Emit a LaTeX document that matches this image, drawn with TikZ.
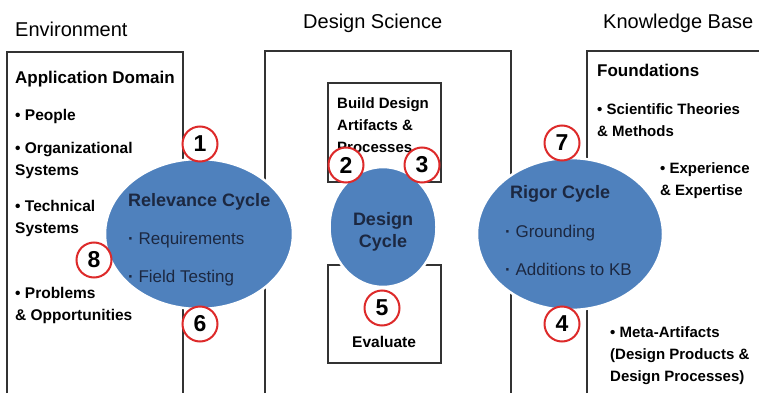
\documentclass[tikz,border=0pt]{standalone}
\usepackage{fontspec}
\setmainfont{Liberation Sans}
\usetikzlibrary{shapes.geometric}
\definecolor{cycblue}{HTML}{4F81BD}
\definecolor{cyctext}{HTML}{1C2841}
\definecolor{numred}{HTML}{DD2A2A}
\newcommand{\fsz}[1]{\fontsize{#1}{22}\selectfont}

\begin{document}
\begin{tikzpicture}[x=1pt, y=-1pt,
	boxline/.style={draw=black!80, line width=1.3pt},
	title/.style={anchor=base west, inner sep=0pt, font=\fsz{20}},
	item/.style={anchor=base west, inner sep=0pt, align=left, font=\bfseries\fsz{15.5}},
	cyc/.style={ellipse, fill=cycblue, draw=white, line width=2.5pt, inner sep=0pt},
	cyctxt/.style={anchor=base west, inner sep=0pt, text=cyctext, font=\fsz{17}},
	num/.style={circle, draw=numred, fill=white, line width=2pt, minimum size=35pt, inner sep=0pt, font=\bfseries\fsz{23}}]
	\useasboundingbox (0,0) rectangle (759,393);

	% the three areas, open at the bottom
	\draw[boxline] (7,393) -- (7,52) -- (183,52) -- (183,393);
	\draw[boxline] (265,393) -- (265,51) -- (511,51) -- (511,393);
	\draw[boxline] (587,393) -- (587,51) -- (759,51);
	\draw[boxline] (328,83) rectangle (441,182);
	\draw[boxline] (328,265) rectangle (441,363);

	\node[title] (env) at (15,37) {Environment};
	\node[title] (dsci) at (303,29) {Design Science};
	\node[title] (kbase) at (603,29) {Knowledge Base};

	% environment (base = last line)
	\node[item, font=\bfseries\fsz{17}] (appdom) at (15,84) {Application Domain};
	\node[item] (people) at (15,121) {• People};
	\node[item] (orgsys) at (15,175) {• Organizational\\Systems};
	\node[item] (techsys) at (15,233) {• Technical\\Systems};
	\node[item] (probs) at (15,320) {• Problems\\\& Opportunities};

	% design science
	\node[item, font=\bfseries\fsz{15}] (build) at (337,152) {Build Design\\Artifacts \&\\Processes};
	\node[item] (evalu) at (352,347) {Evaluate};

	% knowledge base
	\node[item, font=\bfseries\fsz{17}] (found) at (597,77) {Foundations};
	\node[item, font=\bfseries\fsz{15}] (sci) at (597,136) {• Scientific Theories\\\& Methods};
	\node[item, font=\bfseries\fsz{15}] (expert) at (660,195) {• Experience\\\& Expertise};
	\node[item, font=\bfseries\fsz{15}] (meta) at (610,381) {• Meta-Artifacts\\(Design Products \&\\Design Processes)};

	% cycles
	\node[cyc, minimum width=188pt, minimum height=150pt] (relev) at (199,234) {};
	\node[cyc, minimum width=107pt, minimum height=120pt] (design) at (383,227) {};
	\node[cyc, minimum width=186pt, minimum height=152pt] (rigor) at (570,234) {};

	\node[cyctxt, font=\bfseries\fsz{18}] (relevhd) at (128,206) {Relevance Cycle};
	\node[cyctxt] (req) at (128,244) {{\bfseries·} Requirements};
	\node[cyctxt] (field) at (128,282) {{\bfseries·} Field Testing};
	\node[cyctxt, font=\bfseries\fsz{18}, anchor=base, align=center] (designhd) at (383,247) {Design\\Cycle};
	\node[cyctxt, font=\bfseries\fsz{18}] (rigorhd) at (510,198) {Rigor Cycle};
	\node[cyctxt] (ground) at (505,237) {{\bfseries·} Grounding};
	\node[cyctxt] (addkb) at (505,275) {{\bfseries·} Additions to KB};

	\node[num] (n1) at (200,144) {1};
	\node[num] (n2) at (346,165) {2};
	\node[num] (n3) at (422,165) {3};
	\node[num] (n4) at (562,324) {4};
	\node[num] (n5) at (382,308) {5};
	\node[num] (n6) at (200,324) {6};
	\node[num] (n7) at (562,143) {7};
	\node[num] (n8) at (94,260) {8};
\end{tikzpicture}
\end{document}
